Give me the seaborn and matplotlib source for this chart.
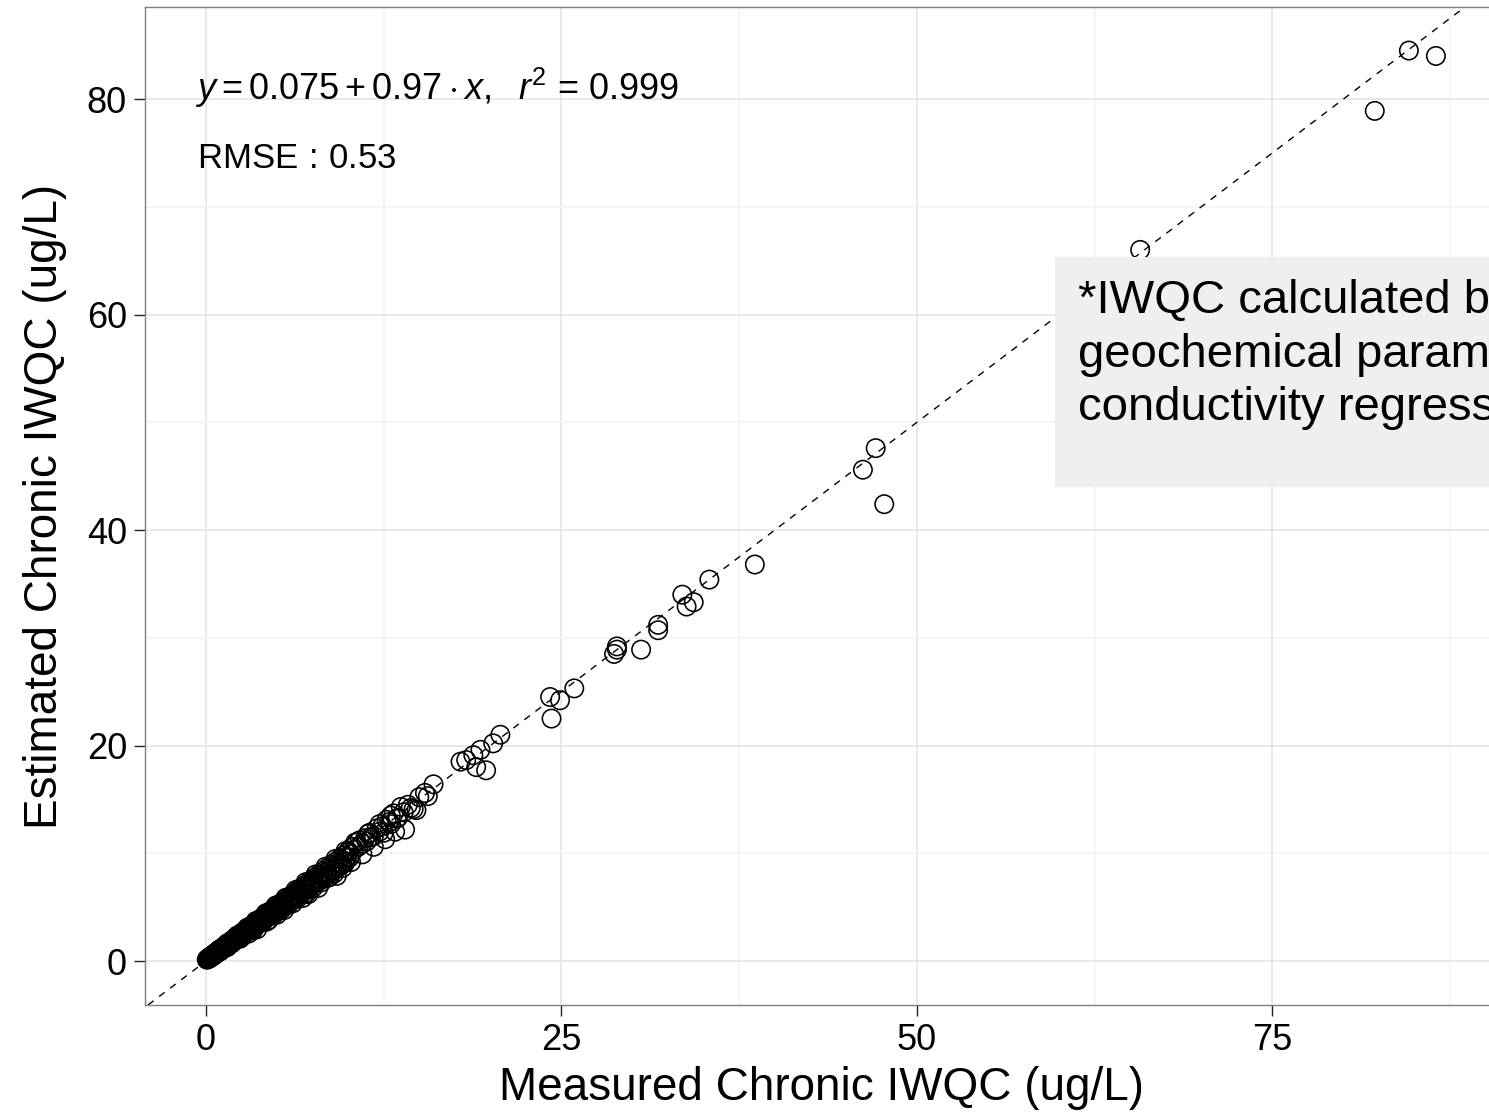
import matplotlib
matplotlib.use("Agg")
import matplotlib.pyplot as plt
import seaborn as sns
import pandas as pd
from matplotlib.patches import Rectangle

# ---- data ----
x_dense_a = [0.05,0.1,0.2,0.3,0.4,0.5,0.6,0.7,0.8,0.9,1.0,1.15,1.3,1.45,1.6,1.75,1.9,2.05,2.2,2.35,
             2.5,2.65,2.8,2.95,3.1,3.25,3.4,3.55,3.7,3.85,4.0,4.2,4.4,4.6,4.8,5.0,5.25,5.5,5.75,6.0,
             6.3,6.6,6.9,7.2,7.5,7.8,8.1,8.4,8.7,9.0,9.3,9.6,9.9]
y_dense_a = [0.13,0.17,0.27,0.37,0.46,0.56,0.66,0.76,0.85,0.95,1.05,1.19,1.34,1.48,1.63,1.77,1.92,2.06,2.21,2.36,
             2.50,2.65,2.79,2.94,3.08,3.23,3.37,3.52,3.67,3.81,3.96,4.15,4.34,4.54,4.73,4.93,5.17,5.41,5.65,5.90,
             6.19,6.48,6.77,7.06,7.35,7.64,7.93,8.22,8.52,8.81,9.10,9.39,9.68]
x_dense_b = [0.15,0.35,0.55,0.75,0.95,1.2,1.4,1.65,1.85,2.1,2.3,2.55,2.75,3.0,3.2,3.45,3.65,3.9,4.1,4.3,
             4.5,4.7,4.9,5.1,5.35,5.6,5.9,6.15,6.45,6.75,7.05,7.35,7.7,8.0,8.3,8.6,8.9,9.2,9.5,9.8]
y_dense_b = [0.16,0.35,0.53,0.72,0.90,1.14,1.32,1.55,1.74,1.97,2.16,2.39,2.58,2.81,3.00,3.23,3.42,3.65,3.83,4.02,
             4.21,4.39,4.58,4.76,5.00,5.23,5.51,5.74,6.02,6.30,6.58,6.86,7.18,7.46,7.74,8.02,8.30,8.58,8.86,9.14]
x_dense_c = [1.5,2.4,3.0,3.3,3.6,4.26,4.4,5.0,5.5,6.1,6.8,7.07,7.2,7.9,8.7,9.2]
y_dense_c = [1.29,2.07,2.55,2.84,2.95,3.65,3.79,4.30,4.73,5.35,5.85,6.28,6.20,6.79,7.8,7.9]
x_dense_d = [0.25,0.45,0.65,0.85,1.05,1.25,1.5,1.7,1.95,2.15,2.45,2.6,2.85,3.05,3.35,3.5,3.75,3.95,4.15,4.35,
             4.55,4.75,4.95,5.2,5.45,5.7,5.95,6.2,6.5,6.8,7.1,7.4,7.65,7.95,8.25,8.55,8.85,9.15,9.45,9.75,10.1]
y_dense_d = [0.24,0.43,0.62,0.81,1.00,1.19,1.43,1.62,1.85,2.04,2.33,2.47,2.71,2.90,3.18,3.33,3.56,3.75,3.94,4.13,
             4.32,4.51,4.70,4.94,5.18,5.42,5.65,5.89,6.18,6.46,6.75,7.03,7.27,7.55,7.84,8.12,8.41,8.69,8.98,9.26,9.60]
x_dense_e = [0.12,0.28,0.48,0.68,0.88,1.08,1.28,1.55,1.8,2.0,2.25,2.5,2.7,2.9,3.15,3.4,3.6,3.8,4.05,4.25,
             4.5,4.75,5.05,5.3,5.55,5.85,6.1,6.4,6.7,7.0,7.3,7.6,7.9,8.2,8.5,8.8,9.1,9.4,9.7,10.0]
y_dense_e = [0.22,0.38,0.58,0.78,0.98,1.18,1.38,1.65,1.90,2.10,2.35,2.60,2.80,3.00,3.25,3.50,3.70,3.90,4.15,4.35,
             4.60,4.85,5.15,5.40,5.65,5.95,6.20,6.50,6.80,7.10,7.40,7.70,8.00,8.30,8.60,8.90,9.20,9.50,9.80,10.10]
x_dense_f = [0.5,1.0,1.8,2.6,3.4,4.0,4.8,5.3,5.8,6.4,7.0,7.5,8.1,8.6,9.0,9.6,10.2,11.0,11.8,12.6,13.3]
y_dense_f = [0.45,0.90,1.62,2.34,3.06,3.60,4.32,4.77,5.22,5.76,6.30,6.75,7.29,7.74,8.10,8.64,9.18,9.90,10.6,11.3,12.0]
x_dense_g = [0.3,0.9,1.5,2.2,2.9,3.5,4.2,4.9,5.6,6.3,7.0,7.7,8.4,9.1,9.8,10.6,11.4,12.2,13.0]
y_dense_g = [0.41,1.03,1.65,2.37,3.09,3.71,4.43,5.15,5.87,6.59,7.31,8.03,8.75,9.47,10.19,11.0,11.8,12.7,13.5]
x_mid = [10.0,10.2,10.3,10.4,10.5,10.7,10.8,11.0,11.2,11.3,11.5,11.6,11.8,12.0,12.2,12.4,12.5,12.7,12.9,13.0,
         13.2,13.4,13.5,13.7,13.9,14.0,14.2,14.4,14.6,14.8,15.0,15.4,15.6,16.0,
         17.9,18.3,18.8,19.0,19.3,19.7,20.2,20.7,
         24.2,24.3,24.9,25.9]
y_mid = [10.2,9.9,10.6,10.3,11.0,10.6,11.2,10.9,11.4,11.1,11.9,11.5,11.6,12.3,12.0,12.5,11.9,13.1,12.9,12.7,
         13.7,13.2,13.3,14.3,13.8,12.2,14.5,14.2,14.1,14.0,15.2,15.6,15.3,16.4,
         18.5,18.65,19.1,18.0,19.6,17.7,20.2,21.0,
         24.5,22.5,24.2,25.3]
x_high = [28.7,28.9,28.9,30.6,31.8,31.8,33.5,33.8,34.3,35.4,38.6,46.2,47.1,47.7,65.7,82.2,84.6,86.5]
y_high = [28.5,28.9,29.2,28.9,30.7,31.2,34.0,32.9,33.3,35.4,36.8,45.6,47.6,42.4,66.0,78.9,84.5,84.0]

eq_text = r"$y = 0.075 + 0.97 \cdot x,\ \ r^{2}$ = 0.999"
rmse_text = r"RMSE$\,:\,$0.53"
note_text = "*IWQC calculated by\ngeochemical parameters\nconductivity regressions"
x_title = "Measured Chronic IWQC (ug/L)"
y_title = "Estimated Chronic IWQC (ug/L)"
x_ticks = [0, 25, 50, 75]
y_ticks = [0, 20, 40, 60, 80]

df = pd.DataFrame({
    "measured": x_dense_a + x_dense_b + x_dense_c + x_dense_d + x_dense_e + x_dense_f + x_dense_g + x_mid + x_high,
    "estimated": y_dense_a + y_dense_b + y_dense_c + y_dense_d + y_dense_e + y_dense_f + y_dense_g + y_mid + y_high,
})

sns.set_theme(style="whitegrid")
plt.rcParams["font.family"] = ["Liberation Sans", "DejaVu Sans"]
plt.rcParams["text.color"] = "black"
plt.rcParams["axes.labelcolor"] = "black"
plt.rcParams["mathtext.fontset"] = "custom"
plt.rcParams["mathtext.rm"] = "Liberation Sans"
plt.rcParams["mathtext.it"] = "Liberation Sans:italic"
plt.rcParams["mathtext.bf"] = "Liberation Sans:bold"

fig = plt.figure(figsize=(14.89, 11.17), dpi=100)
ax = fig.add_axes([0.0974, 0.1003, 0.908, 0.8934])
ax.set_facecolor("white")

ax.set_xlim(-4.29, 90.8)
ax.set_ylim(-4.08, 88.54)

# grid
ax.set_xticks(x_ticks)
ax.set_yticks(y_ticks)
ax.set_xticks([12.5, 37.5, 62.5, 87.5], minor=True)
ax.set_yticks([10, 30, 50, 70], minor=True)
ax.grid(which="major", color="#E3E3E3", linewidth=1.1)
ax.grid(which="minor", color="#F3F3F3", linewidth=1.1)
ax.set_axisbelow(True)

ax.axline((0, 0), slope=1, color="black", linestyle=(0, (5, 5)), linewidth=1.0, zorder=2)

sns.scatterplot(data=df, x="measured", y="estimated", ax=ax, s=175,
                facecolors="none", edgecolor="black", linewidth=1.15, zorder=3)

ax.add_patch(Rectangle((59.7, 44.0), 60, 21.3, facecolor="#EFEFEF", edgecolor="none", zorder=5))
ax.text(61.3, 63.3, note_text, fontsize=34, va="top", ha="left", linespacing=1.28, zorder=6, color="black")

ax.text(-0.8, 79.9, eq_text, fontsize=26, va="baseline", ha="left", zorder=6, color="black")
ax.text(-0.6, 73.6, rmse_text, fontsize=25, va="baseline", ha="left", zorder=6, color="black")

ax.set_xticklabels([str(t) for t in x_ticks], fontsize=26)
ax.set_yticklabels([str(t) for t in y_ticks], fontsize=26)
ax.tick_params(axis="both", which="major", length=8, width=1.0, color="#222222",
               direction="out", pad=5, labelcolor="black", bottom=True, left=True)
ax.tick_params(axis="both", which="minor", length=0)

ax.set_xlabel(x_title, fontsize=33, labelpad=6, color="black")
ax.set_ylabel(y_title, fontsize=33, labelpad=14, color="black")

for side in ["left", "top", "bottom"]:
    ax.spines[side].set_visible(True)
    ax.spines[side].set_color("#7F7F7F")
    ax.spines[side].set_linewidth(1.0)
ax.spines["right"].set_visible(False)

fig.savefig("out.png", dpi=100)
